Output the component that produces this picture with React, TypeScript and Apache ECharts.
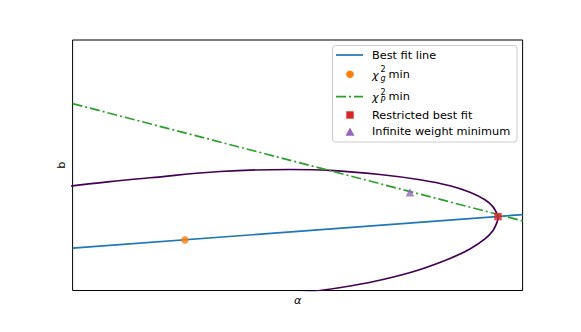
import React, { useEffect, useRef } from "react";
import * as echarts from "echarts";

// Contour (chi^2 level curve)
const contourAlpha = [-0.217, 0.0, 0.249, 0.516, 0.983, 1.449, 1.716, 2.049, 2.316, 2.516, 2.649, 2.749, 2.803, 2.829, 2.838, 2.829, 2.803, 2.749, 2.649, 2.516, 2.296, 2.069, 1.849, 1.649, 1.449];
const contourB = [0.804, 0.836, 0.870, 0.900, 0.950, 0.966, 0.959, 0.926, 0.884, 0.836, 0.784, 0.724, 0.668, 0.612, 0.588, 0.544, 0.480, 0.412, 0.332, 0.256, 0.160, 0.088, 0.036, 0.0, -0.024];

// Best fit line endpoints
const bestFitAlpha = [0, 3];
const bestFitB = [0.338, 0.606];

// chi^2_P min line endpoints
const chiPAlpha = [0, 3];
const chiPB = [1.492, 0.556];

// Single points
const chiGMin = [0.749, 0.404];
const restrictedFit = [2.836, 0.59];
const infiniteWeightMin = [2.249, 0.784];

const FONT = "DejaVu Sans";
const FS = 11.3;

function txt(text: string, x: number, y: number, size = FS, italic = false) {
  return {
    type: "text",
    x,
    y,
    z: 101,
    style: {
      text,
      fill: "#000",
      fontFamily: FONT,
      fontSize: size,
      fontStyle: italic ? "italic" : "normal",
      align: "left",
      verticalAlign: "middle",
      textAlign: "left",
      textVerticalAlign: "middle",
    },
  };
}

export default function App() {
  const ref = useRef<HTMLDivElement>(null);
  useEffect(() => {
    if (!ref.current) return;
    const chart = echarts.init(ref.current, undefined, { renderer: "svg" });
    const pairs = (xs: number[], ys: number[]) => xs.map((x, i) => [x, ys[i]]);
    const axisCommon = {
      type: "value" as const,
      axisLine: { show: false },
      axisTick: { show: false },
      axisLabel: { show: false },
      splitLine: { show: false },
      nameLocation: "middle" as const,
    };
    chart.setOption({
      animation: false,
      grid: {
        left: 72.6,
        top: 40,
        width: 450,
        height: 250.5,
        show: true,
        borderColor: "#000",
        borderWidth: 1,
        backgroundColor: "transparent",
      },
      xAxis: {
        ...axisCommon,
        min: 0,
        max: 3,
        name: "α",
        nameGap: 4,
        nameTextStyle: { fontFamily: FONT, fontStyle: "italic", fontSize: FS, color: "#000" },
      },
      yAxis: {
        ...axisCommon,
        min: 0,
        max: 2,
        name: "b",
        nameGap: 6,
        nameTextStyle: { fontFamily: FONT, fontSize: FS, color: "#000" },
      },
      series: [
        {
          name: "contour",
          type: "line",
          data: pairs(contourAlpha, contourB),
          smooth: 0.4,
          showSymbol: false,
          symbol: "none",
          lineStyle: { color: "#440154", width: 1.7 },
          z: 1,
        },
        {
          name: "Best fit line",
          type: "line",
          data: pairs(bestFitAlpha, bestFitB),
          symbol: "none",
          lineStyle: { color: "#1f77b4", width: 1.7 },
          z: 2,
        },
        {
          name: "χ²g min",
          type: "scatter",
          data: [chiGMin],
          symbol: "circle",
          symbolSize: 7.5,
          itemStyle: { color: "#ff7f0e" },
          z: 3,
        },
        {
          name: "χ²P min",
          type: "line",
          data: pairs(chiPAlpha, chiPB),
          symbol: "none",
          lineStyle: { color: "#2ca02c", width: 1.7, type: [10, 3, 2, 3] },
          z: 4,
        },
        {
          name: "Restricted best fit",
          type: "scatter",
          data: [restrictedFit],
          symbol: "rect",
          symbolSize: 7.5,
          itemStyle: { color: "#d62728" },
          z: 5,
        },
        {
          name: "Infinite weight minimum",
          type: "scatter",
          data: [infiniteWeightMin],
          symbol: "triangle",
          symbolSize: 8.5,
          itemStyle: { color: "#9467bd" },
          z: 6,
        },
      ],
      graphic: [
        {
          type: "rect",
          z: 100,
          shape: { x: 332.5, y: 45.5, width: 184.5, height: 96.5, r: 3 },
          style: { fill: "rgba(255,255,255,0.8)", stroke: "#cccccc", lineWidth: 1 },
        },
        {
          type: "line",
          z: 101,
          shape: { x1: 336, y1: 55, x2: 363, y2: 55 },
          style: { stroke: "#1f77b4", lineWidth: 1.7 },
        },
        txt("Best fit line", 372, 55),
        {
          type: "circle",
          z: 101,
          shape: { cx: 350, cy: 74.3, r: 3.8 },
          style: { fill: "#ff7f0e" },
        },
        txt("χ", 372, 75, FS, true),
        txt("2", 380.5, 69.5, 8),
        txt("g", 380.5, 78.5, 8, true),
        txt("min", 388.5, 74),
        {
          type: "line",
          z: 101,
          shape: { x1: 336, y1: 96.7, x2: 363, y2: 96.7 },
          style: { stroke: "#2ca02c", lineWidth: 1.7, lineDash: [10, 3, 2, 3] },
        },
        txt("χ", 372, 97.5, FS, true),
        txt("2", 380.5, 92, 8),
        txt("P", 380.5, 100.5, 8, true),
        txt("min", 388.5, 96.5),
        {
          type: "rect",
          z: 101,
          shape: { x: 346.3, y: 111.3, width: 7.4, height: 7.4 },
          style: { fill: "#d62728" },
        },
        txt("Restricted best fit", 372, 115),
        {
          type: "polygon",
          z: 101,
          shape: { points: [[350, 127.5], [345.5, 135.8], [354.5, 135.8]] },
          style: { fill: "#9467bd" },
        },
        txt("Infinite weight minimum", 372, 131.7),
      ],
    });
    return () => chart.dispose();
  }, []);
  return (
    <div
      ref={ref}
      style={{ position: "fixed", left: 0, top: 0, width: 581, height: 332, background: "#fff" }}
    />
  );
}
